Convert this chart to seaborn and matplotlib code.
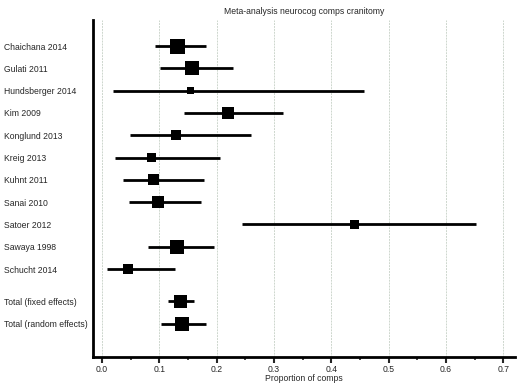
import pandas as pd
import matplotlib.pyplot as plt
import seaborn as sns
from matplotlib.ticker import MultipleLocator

studies = ["Chaichana 2014", "Gulati 2011", "Hundsberger 2014", "Kim 2009",
           "Konglund 2013", "Kreig 2013", "Kuhnt 2011", "Sanai 2010",
           "Satoer 2012", "Sawaya 1998", "Schucht 2014",
           "Total (fixed effects)", "Total (random effects)"]
estimate = [0.132, 0.156, 0.155, 0.220, 0.129, 0.086, 0.090, 0.097,
            0.440, 0.130, 0.046, 0.136, 0.139]
ci_low = [0.093, 0.101, 0.019, 0.143, 0.048, 0.023, 0.036, 0.047,
          0.244, 0.080, 0.008, 0.115, 0.102]
ci_high = [0.181, 0.229, 0.457, 0.316, 0.260, 0.206, 0.177, 0.172,
           0.653, 0.195, 0.128, 0.160, 0.181]
weight = [15, 14, 7, 12, 10, 9, 11, 12, 9, 14, 10, 13, 14]
row = [0, 1, 2, 3, 4, 5, 6, 7, 8, 9, 10, 11.45, 12.45]

df = pd.DataFrame({"study": studies, "est": estimate, "lo": ci_low,
                   "hi": ci_high, "w": weight, "row": row})

sns.set_style("white")
plt.rcParams['font.family'] = ['Liberation Sans', 'DejaVu Sans']

fig = plt.figure(figsize=(5.2, 3.84), dpi=100)
ax = fig.add_axes([0.179, 0.070, 0.811, 0.878])

# grid lines at major ticks
for gx in [0.0, 0.1, 0.2, 0.3, 0.4, 0.5, 0.6, 0.7]:
    ax.axvline(gx, color='#cdd6cd', lw=0.7, ls=(0, (2, 1)), zorder=0)

ax.hlines(df["row"], df["lo"], df["hi"], color='black', lw=2.0, zorder=2)
sizes = {w: (w * 0.72) ** 2 for w in df["w"].unique()}
sns.scatterplot(data=df, x="est", y="row", size="w", sizes=sizes,
                marker='s', color='black', edgecolor='black', linewidth=0,
                legend=False, ax=ax, zorder=3)

ax.set_xlim(-0.0157, 0.72)
ax.set_ylim(13.95, -1.17)
ax.set_yticks(df["row"], df["study"])
for lab in ax.get_yticklabels():
    lab.set_horizontalalignment('left')
ax.tick_params(axis='y', length=0, pad=64, labelsize=6.2)

ax.xaxis.set_minor_locator(MultipleLocator(0.05))
ax.set_xticks([0, 0.1, 0.2, 0.3, 0.4, 0.5, 0.6, 0.7],
              ["0.0", "0.1", "0.2", "0.3", "0.4", "0.5", "0.6", "0.7"])
ax.tick_params(axis='x', which='major', direction='out', length=4, width=1.5,
               labelsize=6.2, pad=1.5, bottom=True)
ax.tick_params(axis='x', which='minor', direction='out', length=2.5, width=1.2,
               bottom=True)

for side in ['top', 'right']:
    ax.spines[side].set_visible(False)
for side in ['left', 'bottom']:
    ax.spines[side].set_linewidth(2)
    ax.spines[side].set_color('black')

ax.set_xlabel("Proportion of comps", fontsize=6.2, labelpad=0.5)
ax.set_ylabel("")
ax.set_title("Meta-analysis neurocog comps cranitomy", fontsize=6.2, pad=4)

plt.savefig("out.png", dpi=100)
plt.close()
